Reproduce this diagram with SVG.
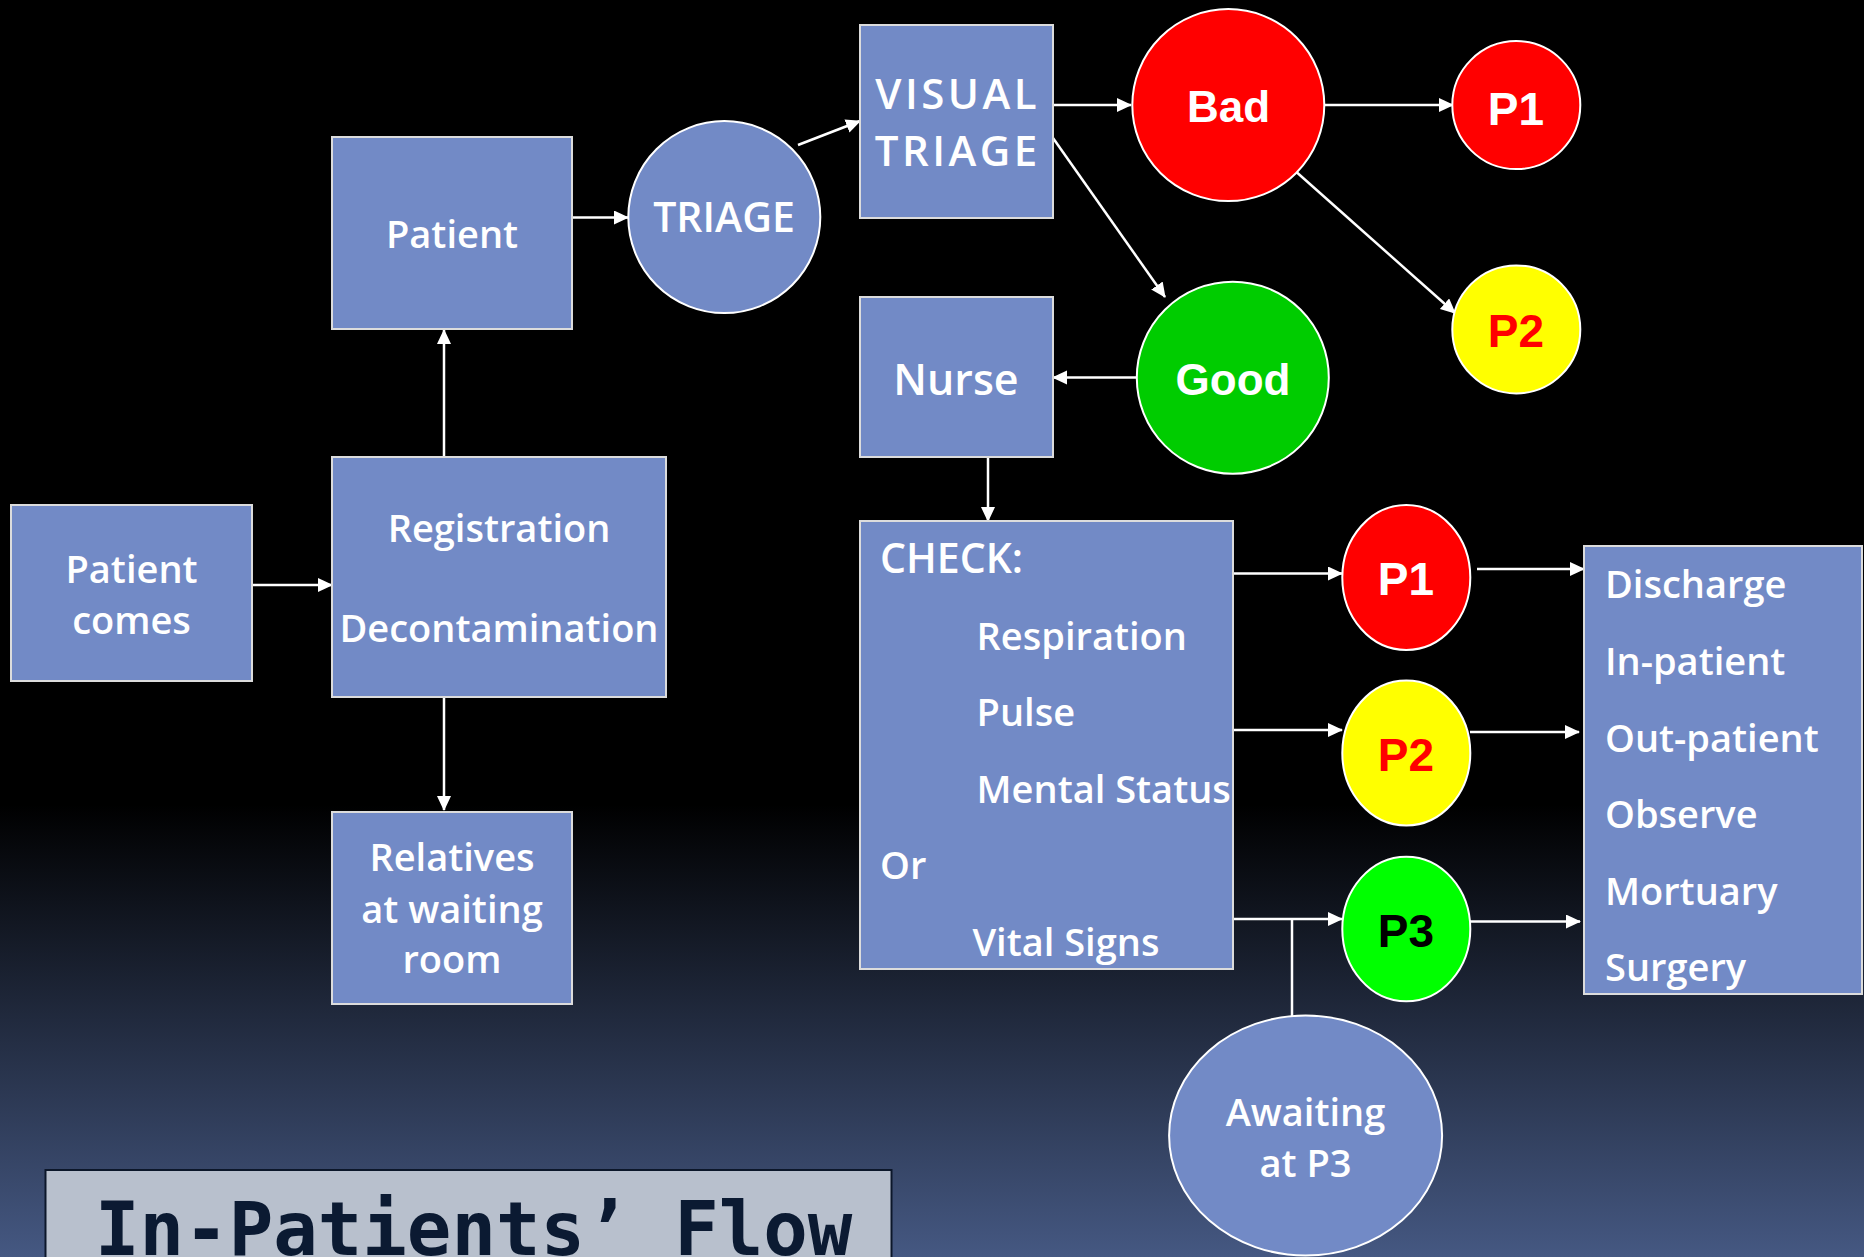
<svg xmlns="http://www.w3.org/2000/svg" width="1864" height="1257" viewBox="0 0 1864 1257">
<defs>
<linearGradient id="bg" x1="0" y1="0" x2="0" y2="1">
<stop offset="0" stop-color="#000000"/>
<stop offset="0.64" stop-color="#000000"/>
<stop offset="1" stop-color="#455882"/>
</linearGradient>
<marker id="ah" markerUnits="userSpaceOnUse" markerWidth="16" markerHeight="15" refX="14" refY="7" orient="auto" viewBox="0 0 16 15">
<path d="M0,0 L15,7 L0,14 z" fill="#ffffff"/>
</marker>
<style>
.box{fill:#728ac6;stroke:#dcdcdc;stroke-width:2}
.bub{stroke:#ffffff;stroke-width:2}
.t{font-family:"Open Sans","Noto Sans","DejaVu Sans",sans-serif;font-weight:600;font-size:38px;fill:#ffffff}
.tc{text-anchor:middle}
.tb{font-size:43px}
.vt{font-size:42px;letter-spacing:3.5px}
.a{font-family:"Liberation Sans",Arial,sans-serif;font-weight:bold;text-anchor:middle}
.ln{stroke:#ffffff;stroke-width:2.5;fill:none}
.arr{marker-end:url(#ah)}
</style>
</defs>
<rect x="0" y="0" width="1864" height="1257" fill="url(#bg)"/>

<g id="connectors">
<path class="ln arr" d="M252,585 L332,585"/>
<path class="ln arr" d="M444,457 L444,330"/>
<path class="ln arr" d="M444,697 L444,810"/>
<path class="ln arr" d="M572,217.5 L628,217.5"/>
<path class="ln arr" d="M798,145 L860,121"/>
<path class="ln arr" d="M1053,105 L1131,105"/>
<path class="ln arr" d="M1053,138 L1165,297"/>
<path class="ln arr" d="M1324,105 L1453,105"/>
<path class="ln arr" d="M1293,169 L1455,313"/>
<path class="ln arr" d="M1137,377.5 L1053,377.5"/>
<path class="ln arr" d="M988,457 L988,521"/>
<path class="ln arr" d="M1233,573.5 L1342,573.5"/>
<path class="ln arr" d="M1477,569 L1584,569"/>
<path class="ln arr" d="M1233,730 L1342,730"/>
<path class="ln arr" d="M1470,732 L1579,732"/>
<path class="ln arr" d="M1229,919 L1342,919"/>
<path class="ln arr" d="M1470,921.5 L1580,921.5"/>
<path class="ln" stroke-width="2" d="M1292,919 L1292,1016"/>
</g>

<g id="patient-comes">
<rect class="box" x="11" y="505" width="241" height="176"/>
<text class="t tc" x="131.5" y="583">Patient</text>
<text class="t tc" x="131.5" y="634">comes</text>
</g>

<g id="registration">
<rect class="box" x="332" y="457" width="334" height="240"/>
<text class="t tc" x="499" y="541.5">Registration</text>
<text class="t tc" x="499" y="642">Decontamination</text>
</g>

<g id="patient">
<rect class="box" x="332" y="137" width="240" height="192"/>
<text class="t tc" x="452" y="247.5">Patient</text>
</g>

<g id="relatives">
<rect class="box" x="332" y="812" width="240" height="192"/>
<text class="t tc" x="452" y="871">Relatives</text>
<text class="t tc" x="452" y="922.5">at waiting</text>
<text class="t tc" x="452" y="972.5">room</text>
</g>

<g id="triage">
<ellipse class="box" cx="724.3" cy="217.1" rx="96" ry="96" style="stroke:#ffffff"/>
<text class="t tc" x="724" y="231.5" style="font-size:41px">TRIAGE</text>
</g>

<g id="visual-triage">
<rect class="box" x="860" y="25" width="193" height="193"/>
<text class="t tc vt" x="957.7" y="109">VISUAL</text>
<text class="t tc vt" x="957.7" y="166">TRIAGE</text>
</g>

<g id="nurse">
<rect class="box" x="860" y="297" width="193" height="160"/>
<text class="t tc tb" x="956" y="394.5">Nurse</text>
</g>

<g id="bad">
<ellipse class="bub" cx="1228.3" cy="105.1" rx="96" ry="96" fill="#ff0000"/>
<text class="a" x="1228.5" y="122" font-size="44" fill="#ffffff">Bad</text>
</g>

<g id="p1-top">
<ellipse class="bub" cx="1516.3" cy="105.1" rx="64" ry="64" fill="#ff0000"/>
<text class="a" x="1516" y="125" font-size="46" fill="#ffffff">P1</text>
</g>

<g id="p2-top">
<ellipse class="bub" cx="1516.3" cy="329.4" rx="64" ry="64" fill="#ffff00"/>
<text class="a" x="1516" y="346.8" font-size="46" fill="#ff0000">P2</text>
</g>

<g id="good">
<ellipse class="bub" cx="1232.8" cy="377.7" rx="96" ry="96" fill="#00cc00"/>
<text class="a" x="1233" y="394.5" font-size="44" fill="#ffffff">Good</text>
</g>

<g id="check">
<rect class="box" x="860" y="521" width="373" height="448"/>
<text class="t" x="880" y="572.7" style="font-size:41px">CHECK:</text>
<text class="t" x="976.6" y="649.5">Respiration</text>
<text class="t" x="976.6" y="726.3">Pulse</text>
<text class="t" x="976.6" y="803">Mental Status</text>
<text class="t" x="880" y="879">Or</text>
<text class="t" x="972.4" y="956">Vital Signs</text>
</g>

<g id="p1-low">
<ellipse class="bub" cx="1406.3" cy="577.5" rx="64" ry="72.5" fill="#ff0000"/>
<text class="a" x="1406" y="594.7" font-size="46" fill="#ffffff">P1</text>
</g>

<g id="p2-low">
<ellipse class="bub" cx="1406.3" cy="753" rx="64" ry="72.5" fill="#ffff00"/>
<text class="a" x="1406" y="771.4" font-size="46" fill="#ff0000">P2</text>
</g>

<g id="p3-low">
<ellipse class="bub" cx="1406.3" cy="929" rx="64" ry="72.3" fill="#00ff00"/>
<text class="a" x="1406" y="947.2" font-size="46" fill="#000000">P3</text>
</g>

<g id="outcomes">
<rect class="box" x="1584" y="546" width="278" height="448"/>
<text class="t" x="1605" y="597.5">Discharge</text>
<text class="t" x="1605" y="674.5">In-patient</text>
<text class="t" x="1605" y="751.5">Out-patient</text>
<text class="t" x="1605" y="828">Observe</text>
<text class="t" x="1605" y="905">Mortuary</text>
<text class="t" x="1605" y="981">Surgery</text>
</g>

<g id="awaiting">
<ellipse class="box" cx="1305.6" cy="1135.5" rx="136.5" ry="120" style="stroke:#ffffff"/>
<text class="t tc" x="1305.5" y="1126">Awaiting</text>
<text class="t tc" x="1305.5" y="1177">at P3</text>
</g>

<g id="title">
<rect x="45.5" y="1170" width="846" height="120" fill="#b8c0cd" stroke="#0c172a" stroke-width="2"/>
<text x="95" y="1255" font-family="'DejaVu Sans Mono','Liberation Mono',monospace" font-weight="bold" font-size="74" fill="#0b1a32">In-Patients’ Flow</text>
</g>
</svg>
